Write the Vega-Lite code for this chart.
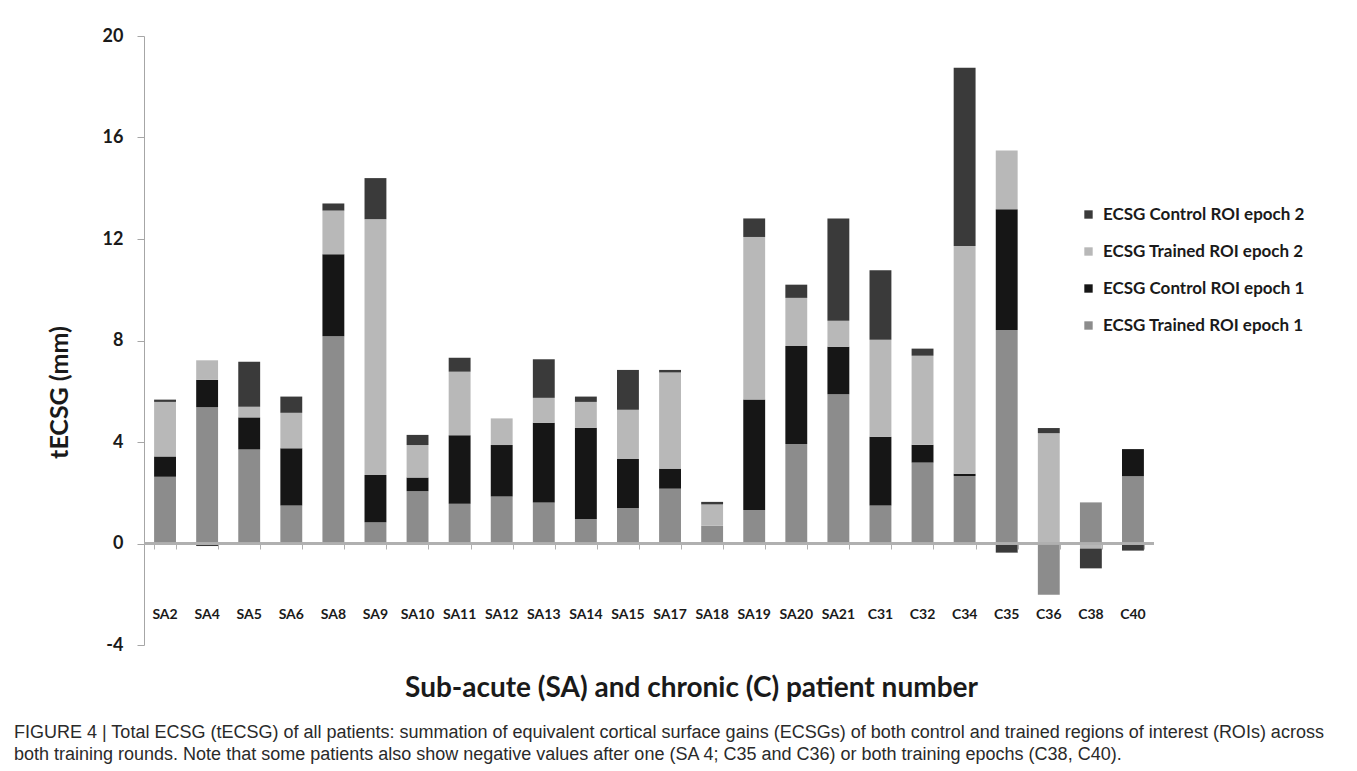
{
  "$schema": "https://vega.github.io/schema/vega-lite/v6.json",
  "width": 1010,
  "height": 609,
  "autosize": {"type": "none"},
  "padding": {"left": 144, "top": 36, "right": 203, "bottom": 126},
  "background": "white",
  "title": {
    "text": [
      "FIGURE 4 | Total ECSG (tECSG) of all patients: summation of equivalent cortical surface gains (ECSGs) of both control and trained regions of interest (ROIs) across",
      "both training rounds. Note that some patients also show negative values after one (SA 4; C35 and C36) or both training epochs (C38, C40)."
    ],
    "orient": "bottom",
    "anchor": "start",
    "frame": "group",
    "dx": -130,
    "offset": 22,
    "font": "Liberation Sans",
    "fontSize": 18,
    "fontWeight": "normal",
    "color": "#2a2a2a",
    "lineHeight": 22
  },
  "data": {
    "values": [
      {"patient": "SA2", "roi": "Trained", "epoch": 1, "series": "ECSG Trained ROI epoch 1", "value": 2.63},
      {"patient": "SA2", "roi": "Control", "epoch": 1, "series": "ECSG Control ROI epoch 1", "value": 0.80},
      {"patient": "SA2", "roi": "Trained", "epoch": 2, "series": "ECSG Trained ROI epoch 2", "value": 2.15},
      {"patient": "SA2", "roi": "Control", "epoch": 2, "series": "ECSG Control ROI epoch 2", "value": 0.09},
      {"patient": "SA4", "roi": "Trained", "epoch": 1, "series": "ECSG Trained ROI epoch 1", "value": 5.37},
      {"patient": "SA4", "roi": "Control", "epoch": 1, "series": "ECSG Control ROI epoch 1", "value": 1.08},
      {"patient": "SA4", "roi": "Trained", "epoch": 2, "series": "ECSG Trained ROI epoch 2", "value": 0.77},
      {"patient": "SA4", "roi": "Control", "epoch": 2, "series": "ECSG Control ROI epoch 2", "value": -0.10},
      {"patient": "SA5", "roi": "Trained", "epoch": 1, "series": "ECSG Trained ROI epoch 1", "value": 3.71},
      {"patient": "SA5", "roi": "Control", "epoch": 1, "series": "ECSG Control ROI epoch 1", "value": 1.26},
      {"patient": "SA5", "roi": "Trained", "epoch": 2, "series": "ECSG Trained ROI epoch 2", "value": 0.42},
      {"patient": "SA5", "roi": "Control", "epoch": 2, "series": "ECSG Control ROI epoch 2", "value": 1.77},
      {"patient": "SA6", "roi": "Trained", "epoch": 1, "series": "ECSG Trained ROI epoch 1", "value": 1.50},
      {"patient": "SA6", "roi": "Control", "epoch": 1, "series": "ECSG Control ROI epoch 1", "value": 2.25},
      {"patient": "SA6", "roi": "Trained", "epoch": 2, "series": "ECSG Trained ROI epoch 2", "value": 1.40},
      {"patient": "SA6", "roi": "Control", "epoch": 2, "series": "ECSG Control ROI epoch 2", "value": 0.64},
      {"patient": "SA8", "roi": "Trained", "epoch": 1, "series": "ECSG Trained ROI epoch 1", "value": 8.17},
      {"patient": "SA8", "roi": "Control", "epoch": 1, "series": "ECSG Control ROI epoch 1", "value": 3.23},
      {"patient": "SA8", "roi": "Trained", "epoch": 2, "series": "ECSG Trained ROI epoch 2", "value": 1.72},
      {"patient": "SA8", "roi": "Control", "epoch": 2, "series": "ECSG Control ROI epoch 2", "value": 0.28},
      {"patient": "SA9", "roi": "Trained", "epoch": 1, "series": "ECSG Trained ROI epoch 1", "value": 0.84},
      {"patient": "SA9", "roi": "Control", "epoch": 1, "series": "ECSG Control ROI epoch 1", "value": 1.86},
      {"patient": "SA9", "roi": "Trained", "epoch": 2, "series": "ECSG Trained ROI epoch 2", "value": 10.08},
      {"patient": "SA9", "roi": "Control", "epoch": 2, "series": "ECSG Control ROI epoch 2", "value": 1.62},
      {"patient": "SA10", "roi": "Trained", "epoch": 1, "series": "ECSG Trained ROI epoch 1", "value": 2.06},
      {"patient": "SA10", "roi": "Control", "epoch": 1, "series": "ECSG Control ROI epoch 1", "value": 0.54},
      {"patient": "SA10", "roi": "Trained", "epoch": 2, "series": "ECSG Trained ROI epoch 2", "value": 1.28},
      {"patient": "SA10", "roi": "Control", "epoch": 2, "series": "ECSG Control ROI epoch 2", "value": 0.40},
      {"patient": "SA11", "roi": "Trained", "epoch": 1, "series": "ECSG Trained ROI epoch 1", "value": 1.57},
      {"patient": "SA11", "roi": "Control", "epoch": 1, "series": "ECSG Control ROI epoch 1", "value": 2.70},
      {"patient": "SA11", "roi": "Trained", "epoch": 2, "series": "ECSG Trained ROI epoch 2", "value": 2.50},
      {"patient": "SA11", "roi": "Control", "epoch": 2, "series": "ECSG Control ROI epoch 2", "value": 0.55},
      {"patient": "SA12", "roi": "Trained", "epoch": 1, "series": "ECSG Trained ROI epoch 1", "value": 1.85},
      {"patient": "SA12", "roi": "Control", "epoch": 1, "series": "ECSG Control ROI epoch 1", "value": 2.03},
      {"patient": "SA12", "roi": "Trained", "epoch": 2, "series": "ECSG Trained ROI epoch 2", "value": 1.05},
      {"patient": "SA13", "roi": "Trained", "epoch": 1, "series": "ECSG Trained ROI epoch 1", "value": 1.62},
      {"patient": "SA13", "roi": "Control", "epoch": 1, "series": "ECSG Control ROI epoch 1", "value": 3.14},
      {"patient": "SA13", "roi": "Trained", "epoch": 2, "series": "ECSG Trained ROI epoch 2", "value": 0.98},
      {"patient": "SA13", "roi": "Control", "epoch": 2, "series": "ECSG Control ROI epoch 2", "value": 1.52},
      {"patient": "SA14", "roi": "Trained", "epoch": 1, "series": "ECSG Trained ROI epoch 1", "value": 0.97},
      {"patient": "SA14", "roi": "Control", "epoch": 1, "series": "ECSG Control ROI epoch 1", "value": 3.59},
      {"patient": "SA14", "roi": "Trained", "epoch": 2, "series": "ECSG Trained ROI epoch 2", "value": 1.02},
      {"patient": "SA14", "roi": "Control", "epoch": 2, "series": "ECSG Control ROI epoch 2", "value": 0.21},
      {"patient": "SA15", "roi": "Trained", "epoch": 1, "series": "ECSG Trained ROI epoch 1", "value": 1.40},
      {"patient": "SA15", "roi": "Control", "epoch": 1, "series": "ECSG Control ROI epoch 1", "value": 1.93},
      {"patient": "SA15", "roi": "Trained", "epoch": 2, "series": "ECSG Trained ROI epoch 2", "value": 1.94},
      {"patient": "SA15", "roi": "Control", "epoch": 2, "series": "ECSG Control ROI epoch 2", "value": 1.57},
      {"patient": "SA17", "roi": "Trained", "epoch": 1, "series": "ECSG Trained ROI epoch 1", "value": 2.16},
      {"patient": "SA17", "roi": "Control", "epoch": 1, "series": "ECSG Control ROI epoch 1", "value": 0.79},
      {"patient": "SA17", "roi": "Trained", "epoch": 2, "series": "ECSG Trained ROI epoch 2", "value": 3.79},
      {"patient": "SA17", "roi": "Control", "epoch": 2, "series": "ECSG Control ROI epoch 2", "value": 0.10},
      {"patient": "SA18", "roi": "Trained", "epoch": 1, "series": "ECSG Trained ROI epoch 1", "value": 0.70},
      {"patient": "SA18", "roi": "Trained", "epoch": 2, "series": "ECSG Trained ROI epoch 2", "value": 0.84},
      {"patient": "SA18", "roi": "Control", "epoch": 2, "series": "ECSG Control ROI epoch 2", "value": 0.10},
      {"patient": "SA19", "roi": "Trained", "epoch": 1, "series": "ECSG Trained ROI epoch 1", "value": 1.32},
      {"patient": "SA19", "roi": "Control", "epoch": 1, "series": "ECSG Control ROI epoch 1", "value": 4.35},
      {"patient": "SA19", "roi": "Trained", "epoch": 2, "series": "ECSG Trained ROI epoch 2", "value": 6.41},
      {"patient": "SA19", "roi": "Control", "epoch": 2, "series": "ECSG Control ROI epoch 2", "value": 0.73},
      {"patient": "SA20", "roi": "Trained", "epoch": 1, "series": "ECSG Trained ROI epoch 1", "value": 3.92},
      {"patient": "SA20", "roi": "Control", "epoch": 1, "series": "ECSG Control ROI epoch 1", "value": 3.86},
      {"patient": "SA20", "roi": "Trained", "epoch": 2, "series": "ECSG Trained ROI epoch 2", "value": 1.90},
      {"patient": "SA20", "roi": "Control", "epoch": 2, "series": "ECSG Control ROI epoch 2", "value": 0.52},
      {"patient": "SA21", "roi": "Trained", "epoch": 1, "series": "ECSG Trained ROI epoch 1", "value": 5.88},
      {"patient": "SA21", "roi": "Control", "epoch": 1, "series": "ECSG Control ROI epoch 1", "value": 1.87},
      {"patient": "SA21", "roi": "Trained", "epoch": 2, "series": "ECSG Trained ROI epoch 2", "value": 1.03},
      {"patient": "SA21", "roi": "Control", "epoch": 2, "series": "ECSG Control ROI epoch 2", "value": 4.03},
      {"patient": "C31", "roi": "Trained", "epoch": 1, "series": "ECSG Trained ROI epoch 1", "value": 1.50},
      {"patient": "C31", "roi": "Control", "epoch": 1, "series": "ECSG Control ROI epoch 1", "value": 2.71},
      {"patient": "C31", "roi": "Trained", "epoch": 2, "series": "ECSG Trained ROI epoch 2", "value": 3.82},
      {"patient": "C31", "roi": "Control", "epoch": 2, "series": "ECSG Control ROI epoch 2", "value": 2.74},
      {"patient": "C32", "roi": "Trained", "epoch": 1, "series": "ECSG Trained ROI epoch 1", "value": 3.19},
      {"patient": "C32", "roi": "Control", "epoch": 1, "series": "ECSG Control ROI epoch 1", "value": 0.70},
      {"patient": "C32", "roi": "Trained", "epoch": 2, "series": "ECSG Trained ROI epoch 2", "value": 3.51},
      {"patient": "C32", "roi": "Control", "epoch": 2, "series": "ECSG Control ROI epoch 2", "value": 0.28},
      {"patient": "C34", "roi": "Trained", "epoch": 1, "series": "ECSG Trained ROI epoch 1", "value": 2.66},
      {"patient": "C34", "roi": "Control", "epoch": 1, "series": "ECSG Control ROI epoch 1", "value": 0.09},
      {"patient": "C34", "roi": "Trained", "epoch": 2, "series": "ECSG Trained ROI epoch 2", "value": 8.97},
      {"patient": "C34", "roi": "Control", "epoch": 2, "series": "ECSG Control ROI epoch 2", "value": 7.03},
      {"patient": "C35", "roi": "Trained", "epoch": 1, "series": "ECSG Trained ROI epoch 1", "value": 8.41},
      {"patient": "C35", "roi": "Control", "epoch": 1, "series": "ECSG Control ROI epoch 1", "value": 4.76},
      {"patient": "C35", "roi": "Trained", "epoch": 2, "series": "ECSG Trained ROI epoch 2", "value": 2.32},
      {"patient": "C35", "roi": "Control", "epoch": 2, "series": "ECSG Control ROI epoch 2", "value": -0.36},
      {"patient": "C36", "roi": "Trained", "epoch": 1, "series": "ECSG Trained ROI epoch 1", "value": -2.02},
      {"patient": "C36", "roi": "Trained", "epoch": 2, "series": "ECSG Trained ROI epoch 2", "value": 4.35},
      {"patient": "C36", "roi": "Control", "epoch": 2, "series": "ECSG Control ROI epoch 2", "value": 0.20},
      {"patient": "C38", "roi": "Trained", "epoch": 1, "series": "ECSG Trained ROI epoch 1", "value": 1.62},
      {"patient": "C38", "roi": "Trained", "epoch": 2, "series": "ECSG Trained ROI epoch 2", "value": -0.20},
      {"patient": "C38", "roi": "Control", "epoch": 2, "series": "ECSG Control ROI epoch 2", "value": -0.78},
      {"patient": "C40", "roi": "Trained", "epoch": 1, "series": "ECSG Trained ROI epoch 1", "value": 2.65},
      {"patient": "C40", "roi": "Control", "epoch": 1, "series": "ECSG Control ROI epoch 1", "value": 1.07},
      {"patient": "C40", "roi": "Control", "epoch": 2, "series": "ECSG Control ROI epoch 2", "value": -0.28}
    ]
  },
  "resolve": {"axis": {"x": "independent"}},
  "layer": [
    {
      "transform": [
        {
          "stack": "value",
          "groupby": ["patient"],
          "sort": [
            {"field": "epoch", "order": "ascending"},
            {"field": "roi", "order": "descending"}
          ],
          "offset": "zero",
          "as": ["v0", "v1"]
        }
      ],
      "mark": {"type": "bar"},
      "encoding": {
        "x": {
          "field": "patient",
          "type": "nominal",
          "sort": null,
          "scale": {"paddingInner": 0.48, "paddingOuter": 0.24},
          "axis": {
            "orient": "bottom",
            "domain": false,
            "ticks": false,
            "labelAngle": 0,
            "labelPadding": -38,
            "labelFont": "Lato",
            "labelFontSize": 14,
            "labelFontWeight": "bold",
            "labelColor": "#1a1a1a",
            "title": "Sub-acute (SA) and chronic (C) patient number",
            "titleFont": "Lato",
            "titleFontSize": 28,
            "titleFontWeight": "bold",
            "titleColor": "#1a1a1a",
            "titlePadding": 29,
            "titleX": 547
          }
        },
        "y": {
          "field": "v0",
          "type": "quantitative",
          "scale": {"domain": [-4, 20], "nice": false, "zero": false},
          "axis": {
            "values": [-4, 0, 4, 8, 12, 16, 20],
            "labelExpr": "toString(datum.value)",
            "grid": false,
            "domainColor": "#a6a6a6",
            "tickColor": "#a6a6a6",
            "tickSize": 7,
            "labelPadding": 14,
            "labelFont": "Lato",
            "labelFontSize": 18,
            "labelFontWeight": "bold",
            "labelColor": "#1a1a1a",
            "title": "tECSG (mm)",
            "titleFont": "Lato",
            "titleFontSize": 25,
            "titleFontWeight": "bold",
            "titleColor": "#1a1a1a",
            "titlePadding": 30,
            "titleY": 356
          }
        },
        "y2": {"field": "v1"},
        "color": {
          "field": "series",
          "type": "nominal",
          "scale": {
            "domain": ["ECSG Control ROI epoch 2", "ECSG Trained ROI epoch 2", "ECSG Control ROI epoch 1", "ECSG Trained ROI epoch 1"],
            "range": ["#3a3a3a", "#b8b8b8", "#161616", "#8c8c8c"]
          },
          "legend": {
            "title": null,
            "orient": "none",
            "legendX": 936,
            "legendY": 170,
            "symbolType": "square",
            "symbolSize": 70,
            "symbolStrokeWidth": 0,
            "labelFont": "Lato",
            "labelFontSize": 17,
            "labelFontWeight": "bold",
            "labelColor": "#1a1a1a",
            "labelLimit": 400,
            "rowPadding": 19,
            "labelOffset": 6
          }
        }
      }
    },
    {
      "mark": {"type": "rule", "color": "#b0b0b0", "strokeWidth": 1.5},
      "encoding": {"y": {"datum": 0}}
    },
    {
      "mark": {"type": "bar", "opacity": 0},
      "encoding": {
        "x": {
          "field": "patient",
          "type": "nominal",
          "sort": null,
          "axis": {
            "orient": "bottom",
            "offset": -101,
            "domain": false,
            "labels": false,
            "ticks": true,
            "tickBand": "extent",
            "tickSize": 5,
            "tickColor": "#b0b0b0",
            "tickWidth": 1,
            "title": null
          }
        }
      }
    }
  ],
  "config": {"view": {"stroke": null}}
}
